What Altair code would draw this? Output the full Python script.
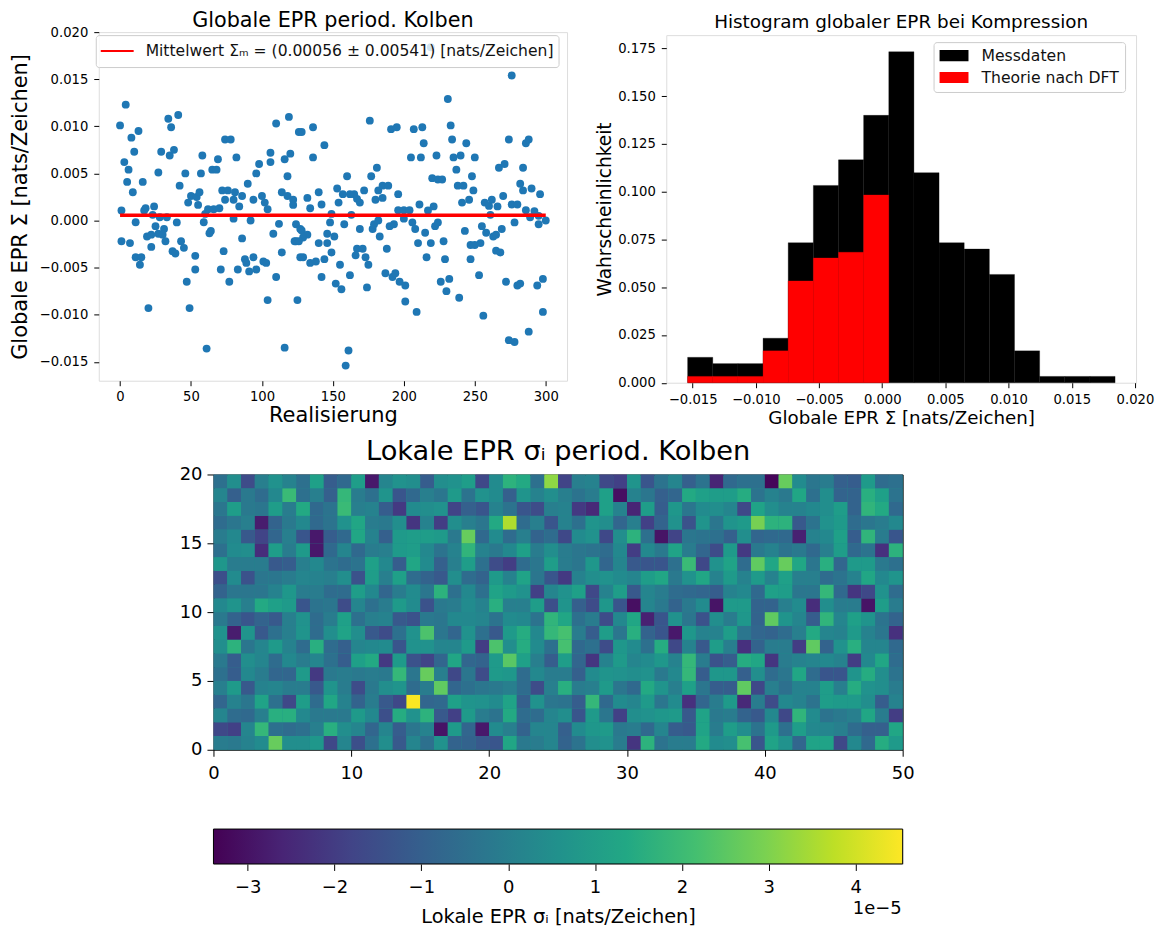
import altair as alt
import pandas as pd

# ---------- Scatter: realisation index, global EPR (units 1e-3) ----------
real_idx = [0,4,8,13,10,3,6,5,9,16,1,18,17,24,23,28,33,27,29,34,36,41,35,38,46,42,48,50,54,56,55,57,58,65,68,69,74,78,82,72,76,81,86,74,80,84,90,94,100,96,98,106,106,110,119,116,120,118,114,118,122,122,126,102,104,62,66,70,60,80,92,
 219,276,231,176,128,136,144,136,191,195,207,213,233,234,214,244,274,286,288,205,212,223,235,240,250,181,177,160,220,224,227,237,248,267,271,284,282,284,290,296,153,157,140,132,134,142,154,162,165,167,169,172,180,185,182,185,189,196,211,221,217,238,242,249,241,246,257,262,260,266,270,276,280,286,292,196,200,204,200,149,163,261,289,295,300,
 11,1,7,11,15,14,19,22,22,25,31,27,30,32,40,37,39,43,45,53,53,47,20,49,61,59,63,64,73,71,77,86,83,88,89,91,94,96,101,103,108,110,104,116,114,112,124,124,125,127,127,
 128,132,129,123,129,134,138,144,140,146,146,151,148,158,149,155,142,152,156,162,126,161,159,169,167,171,166,173,175,174,178,179,182,183,188,187,192,194,190,193,206,208,215,210,219,216,197,201,201,209,222,224,228,229,226,232,230,239,243,247,250,254,247,253,255,258,263,265,269,278,265,268,256,272,280,282,294,298,298,288,274,278,295]
epr_milli = [10.1,12.3,8.8,9.5,7.3,6.2,5.4,4.1,3.0,4.1,1.06,1.3,1.06,1.5,0.6,0.35,0.35,5.1,7.3,10.8,9.9,11.2,6.9,7.5,5.0,3.7,1.9,2.6,2.5,3.0,1.66,5.0,6.9,5.4,5.4,6.5,8.6,8.6,6.7,3.2,3.2,3.0,2.6,2.2,2.2,1.5,3.9,2.2,2.6,5.0,6.0,7.2,6.2,10.3,11.0,6.5,7.1,4.7,3.0,2.6,2.2,1.66,9.4,1.9,1.2,1.2,1.2,1.3,0.7,0.2,0.0,
 18.4,15.4,12.9,10.6,9.4,9.9,8.0,6.7,9.7,9.9,9.7,9.9,10.1,8.6,8.2,8.2,8.6,8.2,8.6,6.7,6.7,6.9,6.7,6.9,6.7,5.6,4.7,4.7,4.5,4.35,4.35,5.4,4.7,5.6,6.0,5.6,3.9,3.2,3.4,2.8,3.4,2.8,3.0,2.4,1.3,1.7,1.9,2.8,2.8,2.3,1.9,3.2,2.2,2.4,3.2,3.7,3.7,2.8,1.7,1.5,1.06,3.7,3.7,3.2,1.9,2.2,1.9,2.2,1.55,1.5,2.6,1.7,1.7,1.1,1.0,1.1,1.1,1.1,0.2,0.7,0.6,0.6,0.35,0.5,0.0,
 -0.18,-2.2,-2.4,-3.9,-3.9,-4.7,-1.7,-1.5,-2.8,-0.6,-0.9,-1.4,-1.5,-2.2,-0.2,-3.25,-3.5,-2.2,-2.9,-3.75,-5.2,-6.5,-9.3,-9.3,-13.6,-0.18,-1.35,-1.1,-3.25,-5.2,-6.5,-1.9,-5.2,-4.1,-4.5,-5.4,-3.9,-5.2,-4.35,-4.5,-1.4,-6.0,-8.45,-13.5,-3.4,-0.35,-0.4,-2.2,-8.45,-0.9,-3.9,
 -1.06,-1.5,-1.8,-2.2,-3.9,-4.5,-4.35,-4.1,-2.4,-1.4,-2.4,-1.7,-0.2,-0.4,-3.4,-4.7,-6.0,-6.7,-7.3,-5.8,-2.2,-13.8,-15.4,-0.9,-3.0,-3.0,-3.7,-3.9,-4.7,-7.1,-0.9,-0.4,0.0,-1.7,-3.0,-5.6,-6.0,-5.6,-0.6,-0.4,-0.2,-0.9,-1.3,-2.4,-2.4,-3.9,-6.5,-6.9,-8.6,-9.7,-0.6,-0.2,-2.2,-4.1,-6.5,-6.2,-7.5,-8.2,-1.1,-2.6,-2.6,-2.4,-4.1,-5.8,-0.6,-1.3,-1.7,-1.5,-0.9,-0.2,-3.2,-3.4,-10.1,-6.5,-6.9,-6.7,-6.9,-6.2,-9.7,-11.8,-12.7,-12.9,-0.4]
mean_x = [0, 300]
mean_y = [0.00056, 0.00056]
mean_label = "Mittelwert Σₘ = (0.00056 ± 0.00541) [nats/Zeichen]"

# ---------- Histogram ----------
edges = [-0.0154,-0.01341,-0.01142,-0.00943,-0.00744,-0.00545,-0.00346,-0.00147,0.00052,0.00251,0.0045,0.00649,0.00848,0.01047,0.01246,0.01445,0.01644,0.01843]
hist_data = [0.0133,0.01,0.01,0.0233,0.0733,0.1033,0.1167,0.14,0.1733,0.11,0.0733,0.07,0.0567,0.0167,0.0033,0.0033,0.0033]
hist_theory = [0.0033,0.0033,0.0033,0.0167,0.0533,0.0653,0.0683,0.0983]

# ---------- Heatmap (units 1e-5), row 0 is the bottom row ----------
r00 = [-.1,-.2,.1,.4,2.7,.5,.5,.8,-1.7,.2,-1.5,-.5,.5,-1.2,.2,-.5,.6,-.9,-.9,-1.2,-1.3,1.3,-.2,-.1,.2,-.9,-.4,.5,.6,-.1,-2.2,1.7,-.4,-.1,-.1,1.4,.4,.5,2.2,-1.3,1.2,.6,-.8,1.2,1.2,-1.7,.3,-.7,1.5,.9]
r01 = [-1.7,-1.9,.2,1.9,-.5,-.6,-.5,0,1.6,.5,.2,-.8,.2,-1.1,-.3,.1,-3,.9,-.8,-2.9,.4,0,-.9,.2,.2,-1,.4,.8,.9,-.2,-.1,-.7,.2,-1.1,-1.2,1.2,-.1,1,.5,-.4,.9,-.5,1,.3,.2,0,-.6,-1,-1,1.3]
r02 = [.2,-.6,-.7,0,1.6,1.6,.3,-.2,-.2,-.2,.9,.3,-1.5,1.5,.6,1.7,-1.2,-1.9,.9,-.1,-.4,1.4,-.6,-.6,.2,.5,-1.3,.9,-.3,-1.9,.5,.6,.8,.9,-1.2,1.2,-.2,-.1,-.9,-1.2,.3,-1.7,1.8,.4,-.4,-.2,0,1.3,-.1,-2]
r03 = [-.8,.1,-.3,1.2,-.5,-1.7,1,-.6,1.3,.1,-.9,-.1,-1.2,-1.7,4.5,-.8,-.7,1.1,.7,.6,.4,1.2,-1,.6,-.3,-.4,-1.1,1.9,-.7,.4,.2,.9,-.3,.4,-2.3,-.8,-.1,.9,-2.5,-.1,-1.6,.3,.1,-.4,1,.9,.9,.5,-1.1,.1]
r04 = [0,.9,-1.2,.1,.2,-.1,-.1,-1.2,.7,-.1,-1.6,-.2,.5,.7,-.6,-.1,2.6,-.8,-.5,-.3,-.2,0,-.6,-1.6,0,1.6,-.1,0,.9,-.3,-.7,1.4,.7,0,1.1,-.3,-1.1,-1.1,2.6,-1.7,0,-.5,.1,.1,1,0,1.5,.6,.5,-.1]
r05 = [-.5,-1.1,.3,-.1,-.8,-.8,.9,-2.1,-.2,-.1,-.2,-.1,-.2,1.9,-.3,2.7,0,-1.7,-.3,-1.6,.9,.8,-.6,.3,-.1,-.1,-1,.4,.7,.6,.5,.6,-.2,.3,1.9,-1.1,.8,.8,-1,.5,-.6,-.3,1.3,-.6,-1.3,-1.3,.7,1.5,.5,-.4]
r06 = [-.2,-1.1,.5,.2,-.6,.3,-.1,.2,-.5,-1.1,1.1,1.4,-2.1,.9,-1.4,-1.8,-.8,1.3,-.8,-.9,.9,2.5,1.1,0,-1.1,1,-.8,-2.2,.1,.9,.2,.4,.8,.1,1.9,-.1,-1.4,-1.1,1.5,1.3,-2.2,-.1,.1,.2,.3,.1,-2,.3,1.3,-.6]
r07 = [.5,1.7,-.3,.2,.9,.1,-.6,1.6,-.6,-1,.2,.3,.4,-1.3,.6,.6,.2,.2,.9,-2,2.3,.5,1.5,.4,-.5,2.2,-.7,-.5,-1.6,.8,.4,-.5,1.5,-1.7,.1,-1.2,1,0,-2.3,-.9,-.1,-.1,-2,2.6,-.9,.6,1.6,.2,.2,-.7]
r08 = [.6,-2.8,.7,-1.2,-.5,0,.7,-.6,.5,1.2,.5,-1.2,-1.6,-.5,.6,2.3,-.3,-.8,.6,-.5,-1.2,.9,1.5,.3,1.9,2.2,-.1,-1.1,1,-.3,1.6,-.9,-1.3,-2.9,.8,.1,.1,1,-.3,-.8,-.9,-.6,0,1.4,.2,.1,.9,.1,-.3,-2.3]
r09 = [-.2,-.9,-1.3,-.9,-1.2,0,.6,-.6,-.1,1.1,-.5,0,.1,-1.2,-1.4,-.2,-.3,.3,.3,.2,-.4,.4,.3,-.4,1.8,1.3,-.5,-.1,-1.6,.3,1.3,-2.7,-1.3,.6,-.3,-1.4,.5,-.1,.8,-.9,2.6,.7,.2,-1.1,1.8,.2,1.1,.7,-.4,-.9]
r10 = [.3,.7,0,1.4,1.1,.9,-1.3,-.4,-.3,-1.6,.2,-.5,-.1,.9,.4,-1.4,-.2,-.1,.4,.1,1.6,0,0,1,-1.5,.7,-1,-1.6,.8,-1.3,-3.1,.2,-.2,-.9,-.2,.4,-3,.9,.9,-.9,-.9,0,.4,-2.4,.5,-.1,-.1,-3,1,-.1]
r11 = [-.9,-.3,-.3,-.3,.1,.8,-.1,-.1,-.6,-.6,1,.3,-.8,-.1,.4,-.3,1.7,-.5,.3,-.5,1.2,.9,.6,-1.9,.2,.6,1.1,-1.7,.1,1,-1.2,.2,-.1,-.6,-.7,-.8,-1.1,.1,.3,-.7,1.1,1,-.3,-.3,1.9,-.7,-2.2,-1.7,.6,-.6]
r12 = [-1.5,.4,-1.4,-.3,-.3,-.1,.2,.1,0,.5,-1.4,1,0,1.1,-.6,-.9,-1.2,.5,-.6,-.9,.9,.1,1.2,-.3,-1.3,-2.1,.1,.5,.6,.4,.2,1,1.3,-.2,.6,1.3,.1,.9,.1,.9,.1,1.1,0,0,-.6,-.4,.1,1.3,.3,.7]
r13 = [.8,-.1,-.1,-.1,-1.2,-1.1,0,.3,-.4,-.6,-.4,1.1,.3,-1.1,1.3,.4,-1,0,1,-.5,-1.6,-2,-.6,-.3,1,-.1,-.3,.8,-.8,.2,-1.2,-1.3,-1.3,-.5,2,-1.7,.6,1.2,-.6,2.6,1.3,2.7,1.3,-.3,1.6,-.8,.9,.9,-.2,-.5]
r14 = [-.5,.4,.5,-2.4,1,-.1,.9,-2.9,-.7,.2,-.7,-.1,0,.9,1,.3,-.4,.1,1.8,.1,-.2,.3,1.1,-.1,.5,-.1,-.3,-.4,-.6,.3,-2,.3,-.2,1.2,-.1,-.8,-1.6,.9,-2.1,-.2,.1,-.4,-.2,-.7,0,1,-.7,-.4,-2.3,1.7]
r15 = [-.1,.3,-1.2,-1.8,-.8,0,-1.3,-2.9,-1.1,-.7,1.3,.1,-1,.9,1,1,.9,-.2,2.7,-.7,.4,-.6,0,-.9,-.6,-1.7,.4,.6,-1.7,.5,1.7,-.5,-3,-1.8,-.3,-.4,-.5,-1,.5,-.8,-.7,-.7,-2.7,.1,.3,1.1,-1.1,1.8,-.1,-1.3]
r16 = [-.6,-.3,0,-2.8,-.9,-.2,.3,-.7,-.4,.6,1.3,-.1,-.2,.5,-2.2,.1,-2,.5,0,-.3,1.4,3.6,-.6,0,-1.3,.1,-.5,.7,.5,-.8,0,-1.9,-.9,.6,-1.4,.7,-.3,.7,.9,2.9,1.7,1.7,-1.2,-.4,.6,.9,-.6,-.3,-.1,.3]
r17 = [-.3,1,-.2,-.3,1,-.1,1.4,-.7,-.4,2,0,.1,-1.1,-2.1,.4,.5,.6,-1.8,-1,-1.3,.1,-.4,-1.3,-1.6,0,.1,-2.1,-2.5,1.1,.1,-2.6,1,-1.1,.8,-.3,.4,.5,.2,-1.7,1.2,.5,.1,.1,.3,.5,1,-.9,1.8,1.4,-.7]
r18 = [.2,-1,-.2,-.6,.3,2,-.5,0,-1,1.9,-.1,-.5,.7,-1.3,-.7,0,-.3,.9,-.4,.6,.4,-1,.7,.1,.5,0,-.4,-.1,1.1,-3.1,.1,-.3,-1,-.8,1.4,1.1,1,1,1.5,-.4,.1,-.2,1.3,-.5,.5,-.9,-.9,1.6,1.1,-.4]
r19 = [-.5,.5,-1.6,0,.6,.1,-.5,1.1,-1.1,-.7,1,-2.9,.2,.6,.5,-1.1,.5,.6,1,-1.7,.4,1.7,1.4,-.5,3.2,-1.8,0,.1,-1.7,-1.9,.7,-1.3,-.4,.2,-1,-.4,-2.6,-.7,-.5,-.5,-3.3,2.7,.4,-.3,-.1,-1,-1.1,.9,-.6,-.5]
heat_rows = [r00,r01,r02,r03,r04,r05,r06,r07,r08,r09,r10,r11,r12,r13,r14,r15,r16,r17,r18,r19]
cbar_lo, cbar_hi = -3.393, 4.541
viridis = ["#440154","#482475","#414487","#355f8d","#2a788e","#21918c","#22a884","#44bf70","#7ad151","#bddf26","#fde725"]

FONT = "DejaVu Sans"

def ax(title, vals=None, fmt=None, ls=13.2, ts=21, pad=5, lp=6, tick=5, **kw):
    d = dict(title=title, labelFontSize=ls, titleFontSize=ts, titlePadding=pad,
             labelFlush=False, labelOverlap=False, domain=False, grid=False, labelPadding=lp,
             tickColor="#000", labelColor="#000", titleColor="#000", tickSize=tick,
             titleFontWeight="normal", labelFont=FONT, titleFont=FONT)
    if vals is not None:
        d["values"] = vals
    if fmt:
        d["format"] = fmt
    d.update(kw)
    return alt.Axis(**d)

def spacer(w, h=1, **kw):
    return alt.Chart(pd.DataFrame({"a": [0]})).mark_point(opacity=0, size=1).encode(
        x=alt.value(0), y=alt.value(0)).properties(
        width=w, height=h, view=alt.ViewBackground(stroke="transparent"), **kw)

# ---------- Panel 1 ----------
scat_df = pd.DataFrame({"x": real_idx, "y": [v / 1000 for v in epr_milli]})
mean_df = pd.DataFrame({"x": mean_x, "y": mean_y, "s": [mean_label] * 2})
x1 = alt.X("x:Q", scale=alt.Scale(domain=[-15, 315], nice=False, zero=False),
           axis=ax("Realisierung", [0, 50, 100, 150, 200, 250, 300], "d", pad=2, lp=5))
y1 = alt.Y("y:Q", scale=alt.Scale(domain=[-0.01701, 0.0200], nice=False, zero=False),
           axis=ax("Globale EPR Σ [nats/Zeichen]",
                   [-0.015, -0.01, -0.005, 0, 0.005, 0.01, 0.015, 0.02], ".3f", pad=9))
pts = alt.Chart(scat_df).mark_circle(size=62, color="#1f77b4", opacity=1).encode(x=x1, y=y1)
line = alt.Chart(mean_df).mark_line(strokeWidth=3.5).encode(
    x=alt.X("x:Q"), y=alt.Y("y:Q"),
    color=alt.Color("s:N", scale=alt.Scale(domain=[mean_label], range=["#ff0000"]),
                    legend=alt.Legend(title=None, orient="none", legendX=-3, legendY=3,
                                      labelFontSize=15.6, labelLimit=600, labelColor="#111",
                                      fillColor="rgba(255,255,255,0.8)", strokeColor="#cccccc",
                                      cornerRadius=3, padding=4, symbolType="stroke", clipHeight=24,
                                      symbolSize=1089, symbolStrokeWidth=2, labelOffset=11)))
p1 = alt.layer(pts, line).properties(
    width=469.5, height=349.5,
    title=alt.TitleParams("Globale EPR period. Kolben", fontSize=20.8, fontWeight="normal",
                          font=FONT, color="#000", offset=-7))

# ---------- Panel 2 ----------
s_data, s_theory = "Messdaten", "Theorie nach DFT"
hist_df = pd.DataFrame({"a": edges[:-1], "b": edges[1:], "v": hist_data, "s": s_data})
theo_df = pd.DataFrame({"a": edges[:len(hist_theory)], "b": edges[1:len(hist_theory) + 1],
                        "v": hist_theory, "s": s_theory})
x2 = alt.X("a:Q", scale=alt.Scale(domain=[-0.01709, 0.02009], nice=False, zero=False),
           axis=ax("Globale EPR Σ [nats/Zeichen]",
                   [-0.015, -0.01, -0.005, 0, 0.005, 0.01, 0.015, 0.02], ".3f", ts=18.3, pad=4))
y2 = alt.Y("v:Q", scale=alt.Scale(domain=[0, 0.182], nice=False),
           axis=ax("Wahrscheinlichkeit", [0, 0.025, 0.05, 0.075, 0.1, 0.125, 0.15, 0.175], ".3f", ts=18.6, pad=3))
col2 = alt.Color("s:N", scale=alt.Scale(domain=[s_data, s_theory], range=["#000000", "#ff0000"]),
                 legend=alt.Legend(title=None, orient="none", legendX=268, legendY=10,
                                   labelFontSize=15.7, labelLimit=400, labelColor="#111",
                                   fillColor="rgba(255,255,255,0.8)", strokeColor="#cccccc",
                                   cornerRadius=3, padding=6, symbolType="M-1.375,-0.7H2.625V0.7H-1.375Z",
                                   symbolSize=256, symbolStrokeWidth=0, labelOffset=26, rowPadding=5, clipHeight=15))
bars = alt.Chart(hist_df).mark_rect(stroke="#000000", strokeWidth=0.3).encode(
    x=x2, x2="b:Q", y=y2, y2=alt.Y2(datum=0), color=col2)
bars2 = alt.Chart(theo_df).mark_rect(stroke="#ff0000", strokeWidth=0.3).encode(
    x=alt.X("a:Q"), x2="b:Q", y=alt.Y("v:Q"), y2=alt.Y2(datum=0), color=col2)
p2 = alt.layer(bars, bars2).properties(width=471, height=348.5)
p2_head = spacer(471, 1.5, title=alt.TitleParams("Histogram globaler EPR bei Kompression", fontSize=18.4,
                                                 fontWeight="normal", font=FONT, color="#000", offset=0))

# ---------- Panel 3 ----------
heat_df = pd.DataFrame([
    {"c": c, "c2": c + 1, "r": r, "r2": r + 1, "v": v}
    for r, row in enumerate(heat_rows) for c, v in enumerate(row)])
vir = alt.Scale(scheme="viridis", domain=[cbar_lo, cbar_hi])
p3 = alt.Chart(heat_df).mark_rect().encode(
    x=alt.X("c:Q", scale=alt.Scale(domain=[0, 50], nice=False),
            axis=ax(" ", [0, 10, 20, 30, 40, 50], "d", ls=18, ts=12, pad=25, lp=8, tick=6.5)),
    x2="c2:Q",
    y=alt.Y("r:Q", scale=alt.Scale(domain=[0, 20], nice=False),
            axis=ax(None, [0, 5, 10, 15, 20], "d", ls=18, lp=5, tick=6.5)),
    y2="r2:Q",
    color=alt.Color("v:Q", scale=vir, legend=None),
).properties(
    width=691, height=276, view=alt.ViewBackground(fill="#21918c", stroke="#111"),
    title=alt.TitleParams("Lokale EPR σᵢ period. Kolben", fontSize=27.3, fontWeight="normal",
                          font=FONT, color="#000", offset=0))

# ---------- Colour bar ----------
cb_df = pd.DataFrame({"lo": [cbar_lo], "hi": [cbar_hi], "t": ["1e−5"]})
grad = alt.Gradient(gradient="linear",
                    stops=[alt.GradientStop(offset=i / 10, color=c) for i, c in enumerate(viridis)])
cb_bar = alt.Chart(cb_df).mark_rect(fill=grad, stroke="#000", strokeWidth=1).encode(
    x=alt.X("lo:Q", scale=alt.Scale(domain=[cbar_lo, cbar_hi], nice=False, zero=False),
            axis=ax("Lokale EPR σᵢ [nats/Zeichen]", [-3, -2, -1, 0, 1, 2, 3, 4], "d", ls=18, ts=19.4, pad=11, lp=8, tick=6.5)),
    x2="hi:Q",
    y=alt.value(0), y2=alt.value(35))
cb_txt = alt.Chart(cb_df).mark_text(align="right", baseline="alphabetic", fontSize=18, font=FONT,
                                    color="#000").encode(
    x=alt.value(690), y=alt.value(85), text="t:N")
p4 = alt.layer(cb_bar, cb_txt).properties(width=691, height=35)

right = alt.vconcat(p2_head, p2, spacing=0)
top = alt.hconcat(p1, right, spacing=27).resolve_scale(color="independent")
row2 = alt.hconcat(spacer(79), p3, spacing=0)
row3 = alt.hconcat(spacer(113), p4, spacing=0)
chart = alt.vconcat(top, row2, row3, spacing=9.5).resolve_scale(
    color="independent").configure_view(
    stroke="#111", strokeWidth=1).configure(font=FONT).properties(
    padding={"left": 0, "top": 0, "right": 0, "bottom": 0}, background="white")

chart.save("out.html", embed_options={"renderer": "svg", "actions": False})
